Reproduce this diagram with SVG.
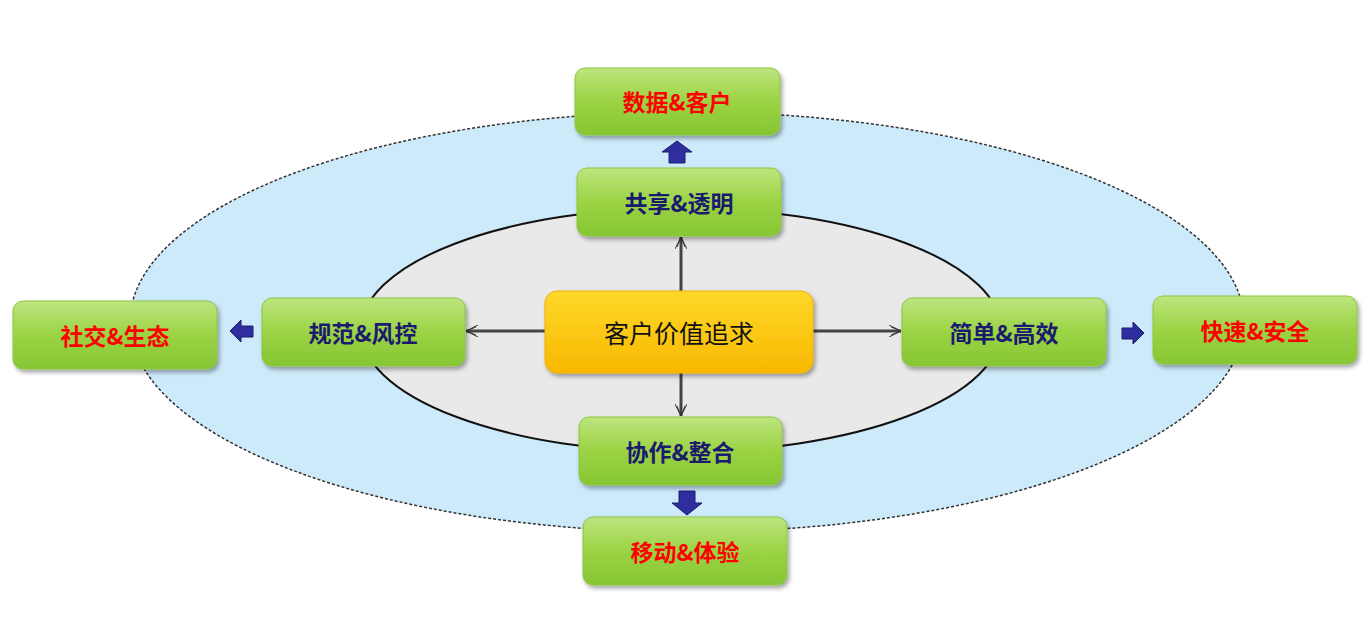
<svg xmlns="http://www.w3.org/2000/svg" width="1365" height="634" viewBox="0 0 1365 634">
<defs>
<linearGradient id="g" x1="0" y1="0" x2="0" y2="1"><stop offset="0" stop-color="#bde57f"/><stop offset="0.5" stop-color="#9bd344"/><stop offset="1" stop-color="#86c633"/></linearGradient>
<linearGradient id="y" x1="0" y1="0" x2="0" y2="1"><stop offset="0" stop-color="#ffd92a"/><stop offset="1" stop-color="#f8b800"/></linearGradient>
<filter id="sh" x="-10%" y="-10%" width="130%" height="140%"><feDropShadow dx="2" dy="3" stdDeviation="2" flood-color="#000" flood-opacity="0.35"/></filter>
<marker id="ah" markerWidth="14" markerHeight="12" refX="12" refY="6" orient="auto" markerUnits="userSpaceOnUse"><path d="M0,0 L12,6 L0,12 M2,2 L12,6 L2,10" fill="none" stroke="#333" stroke-width="1"/></marker>
</defs>
<style>
.n{fill:url(#g);stroke:#8cc63f;stroke-width:1;filter:url(#sh)}
.t{font-family:"Noto Sans CJK SC","Liberation Serif",serif;font-size:23px;font-weight:bold;text-anchor:middle;dominant-baseline:central}
.r{fill:#ff0000}.b{fill:#1a1a6e}
.c{stroke:#444;stroke-width:3;fill:none;marker-end:url(#ah)}
.ba{fill:#2e2e9e;stroke:#1c1c70;stroke-width:1}
</style>
<rect width="1365" height="634" fill="#fff"/>
<ellipse cx="687" cy="322" rx="557" ry="210" fill="#cdeafa" stroke="#333" stroke-width="1.5" stroke-dasharray="3,2"/>
<ellipse cx="681" cy="330" rx="320" ry="122" fill="#e9e9e9" stroke="#111" stroke-width="2"/>
<g id="connectors">
<line class="c" x1="681" y1="291" x2="681" y2="237"/>
<line class="c" x1="545" y1="331" x2="466" y2="331"/>
<line class="c" x1="813" y1="331" x2="901" y2="331"/>
<line class="c" x1="681" y1="373" x2="681" y2="416"/>
<path class="ba" d="M677,141 L692,152 L685,152 L685,163 L669,163 L669,152 L662,152 Z"/>
<path class="ba" d="M230,331 L241,320 L241,326 L253,326 L253,337 L241,337 L241,342 Z"/>
<path class="ba" d="M1144,333 L1133,322 L1133,328 L1122,328 L1122,339 L1133,339 L1133,344 Z"/>
<path class="ba" d="M687,515 L702,503 L695,503 L695,491 L679,491 L679,503 L672,503 Z"/>
</g>
<g id="n1"><rect class="n" x="575" y="68" width="205" height="67" rx="10"/><text class="t r" x="677" y="101">数据&amp;客户</text></g>
<g id="n2"><rect class="n" x="577" y="168" width="204" height="68" rx="10"/><text class="t b" x="679" y="202">共享&amp;透明</text></g>
<g id="n3"><rect class="n" x="262" y="298" width="203" height="68" rx="10"/><text class="t b" x="363" y="332">规范&amp;风控</text></g>
<g id="center"><rect x="545" y="291" width="268" height="82" rx="12" fill="url(#y)" stroke="#f0b000" filter="url(#sh)"/><text class="t" x="679" y="332" fill="#111" style="font-weight:normal;font-size:25px">客户价值追求</text></g>
<g id="n4"><rect class="n" x="902" y="298" width="204" height="68" rx="10"/><text class="t b" x="1004" y="332">简单&amp;高效</text></g>
<g id="n5"><rect class="n" x="1153" y="296" width="204" height="68" rx="10"/><text class="t r" x="1255" y="330">快速&amp;安全</text></g>
<g id="n6"><rect class="n" x="13" y="301" width="204" height="68" rx="10"/><text class="t r" x="115" y="335">社交&amp;生态</text></g>
<g id="n7"><rect class="n" x="579" y="417" width="203" height="68" rx="10"/><text class="t b" x="680" y="451">协作&amp;整合</text></g>
<g id="n8"><rect class="n" x="583" y="517" width="204" height="68" rx="10"/><text class="t r" x="685" y="551">移动&amp;体验</text></g>
</svg>
